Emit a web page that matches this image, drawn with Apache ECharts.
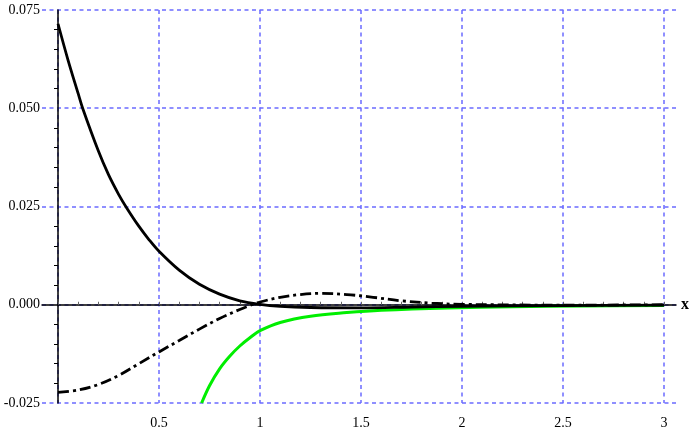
<!DOCTYPE html>
<html>
<head>
<meta charset="utf-8">
<script src="https://cdn.jsdelivr.net/npm/echarts@6/dist/echarts.min.js"></script>
<style>html,body{margin:0;padding:0;background:#fff}#c{width:692px;height:432px}</style>
</head>
<body>
<div id="c"></div>
<script>
// Solid black curve
var solidX = [0, 0.05, 0.1, 0.122, 0.2, 0.25, 0.3, 0.337, 0.4, 0.45, 0.5, 0.6, 0.7, 0.8, 0.9, 1.0, 1.1, 1.25, 1.5, 1.75, 2.0, 2.5, 3.0];
var solidY = [0.0715, 0.0622, 0.0537, 0.0500, 0.0391, 0.0331, 0.0281, 0.0249, 0.0200, 0.0166, 0.0136, 0.0088, 0.0052, 0.0027, 0.0010, 0.0001, -0.0004, -0.0007, -0.0008, -0.0006, -0.0004, -0.0002, -0.0001];
// Dash-dot black curve
var dashX = [0, 0.1, 0.2, 0.3, 0.4, 0.5, 0.6, 0.7, 0.8, 0.9, 0.95, 1.0, 1.1, 1.2, 1.3, 1.43, 1.56, 1.7, 1.85, 2.0, 2.5, 3.0];
var dashY = [-0.0223, -0.0217, -0.0203, -0.0180, -0.0150, -0.0120, -0.0091, -0.0062, -0.0035, -0.0012, -0.0002, 0.0007, 0.0019, 0.0026, 0.0029, 0.0026, 0.0019, 0.0010, 0.0004, 0.0001, -0.0001, 0.0];
// Green curve
var greenX = [0.711, 0.75, 0.8, 0.85, 0.9, 0.95, 1.0, 1.1, 1.25, 1.43, 1.6, 1.93, 2.25, 2.6, 3.0];
var greenY = [-0.0250, -0.0206, -0.0163, -0.0131, -0.0105, -0.0084, -0.0066, -0.0045, -0.0029, -0.0020, -0.0014, -0.0008, -0.0005, -0.0003, -0.0002];
// Axis ticks
var yMin = -0.025, yMax = 0.075, yStep = 0.025;
var xMin = 0, xMax = 3, xStep = 0.5;

function pairs(xs, ys) { return xs.map(function (x, i) { return [x, ys[i]]; }); }

var serif = '"Liberation Serif","DejaVu Serif",serif';
var gridBlue = '#6b6bff';

var chart = echarts.init(document.getElementById('c'), null, { renderer: 'canvas' });
chart.setOption({
  animation: false,
  grid: [
    { left: 58, right: 28, top: 10, bottom: 29 },
    { left: 42, right: 14, top: 10, bottom: 29 }
  ],
  xAxis: [
    { gridIndex: 0, type: 'value', min: xMin, max: xMax, interval: xStep, position: 'bottom',
      axisLine: { show: false, onZero: false }, axisTick: { show: false },
      axisLabel: { fontFamily: serif, fontSize: 14, color: '#000', margin: 13,
        formatter: function (v) { return v === 0 ? '' : String(v); } },
      splitLine: { show: true, lineStyle: { color: gridBlue, width: 1.5, type: [4, 3.5] } } },
    { gridIndex: 0, type: 'value', min: xMin, max: xMax, interval: 0.1, position: 'bottom',
      axisLine: { show: false, onZero: true },
      axisTick: { show: true, inside: true, length: 3, lineStyle: { color: '#666', width: 1 } },
      axisLabel: { show: false }, splitLine: { show: false } },
    { gridIndex: 1, type: 'value', min: 0, max: 1, position: 'bottom',
      axisLine: { show: true, onZero: true, lineStyle: { color: '#000', width: 1.5 } },
      axisTick: { show: false }, axisLabel: { show: false }, splitLine: { show: false },
      name: 'x', nameLocation: 'end', nameGap: 5,
      nameTextStyle: { fontFamily: serif, fontSize: 16, fontWeight: 'bold', color: '#000', verticalAlign: 'middle' } }
  ],
  yAxis: [
    { gridIndex: 0, type: 'value', min: yMin, max: yMax, interval: yStep,
      axisLine: { show: true, onZero: false, lineStyle: { color: '#000', width: 1.5 } },
      axisTick: { show: false },
      minorTick: { show: true, splitNumber: 5, length: 4, lineStyle: { color: '#000', width: 1 } },
      axisLabel: { fontFamily: serif, fontSize: 14, color: '#000', margin: 18,
        formatter: function (v) { return v.toFixed(3); } },
      splitLine: { show: false } },
    { gridIndex: 1, type: 'value', min: yMin, max: yMax, interval: yStep,
      axisLine: { show: false }, axisTick: { show: false }, axisLabel: { show: false },
      splitLine: { show: true, lineStyle: { color: gridBlue, width: 1.5, type: [4, 3.5] } } }
  ],
  series: [
    { type: 'line', xAxisIndex: 0, yAxisIndex: 0, data: pairs(greenX, greenY), smooth: 0.35,
      showSymbol: false, clip: true, lineStyle: { color: '#00ee00', width: 3 }, z: 3 },
    { type: 'line', xAxisIndex: 0, yAxisIndex: 0, data: pairs(dashX, dashY), smooth: 0.35,
      showSymbol: false, clip: true, lineStyle: { color: '#000', width: 2.8, type: [11, 4, 3, 4] }, z: 4 },
    { type: 'line', xAxisIndex: 0, yAxisIndex: 0, data: pairs(solidX, solidY), smooth: 0.35,
      showSymbol: false, clip: true, lineStyle: { color: '#000', width: 2.8 }, z: 5 }
  ]
});
</script>
</body>
</html>
